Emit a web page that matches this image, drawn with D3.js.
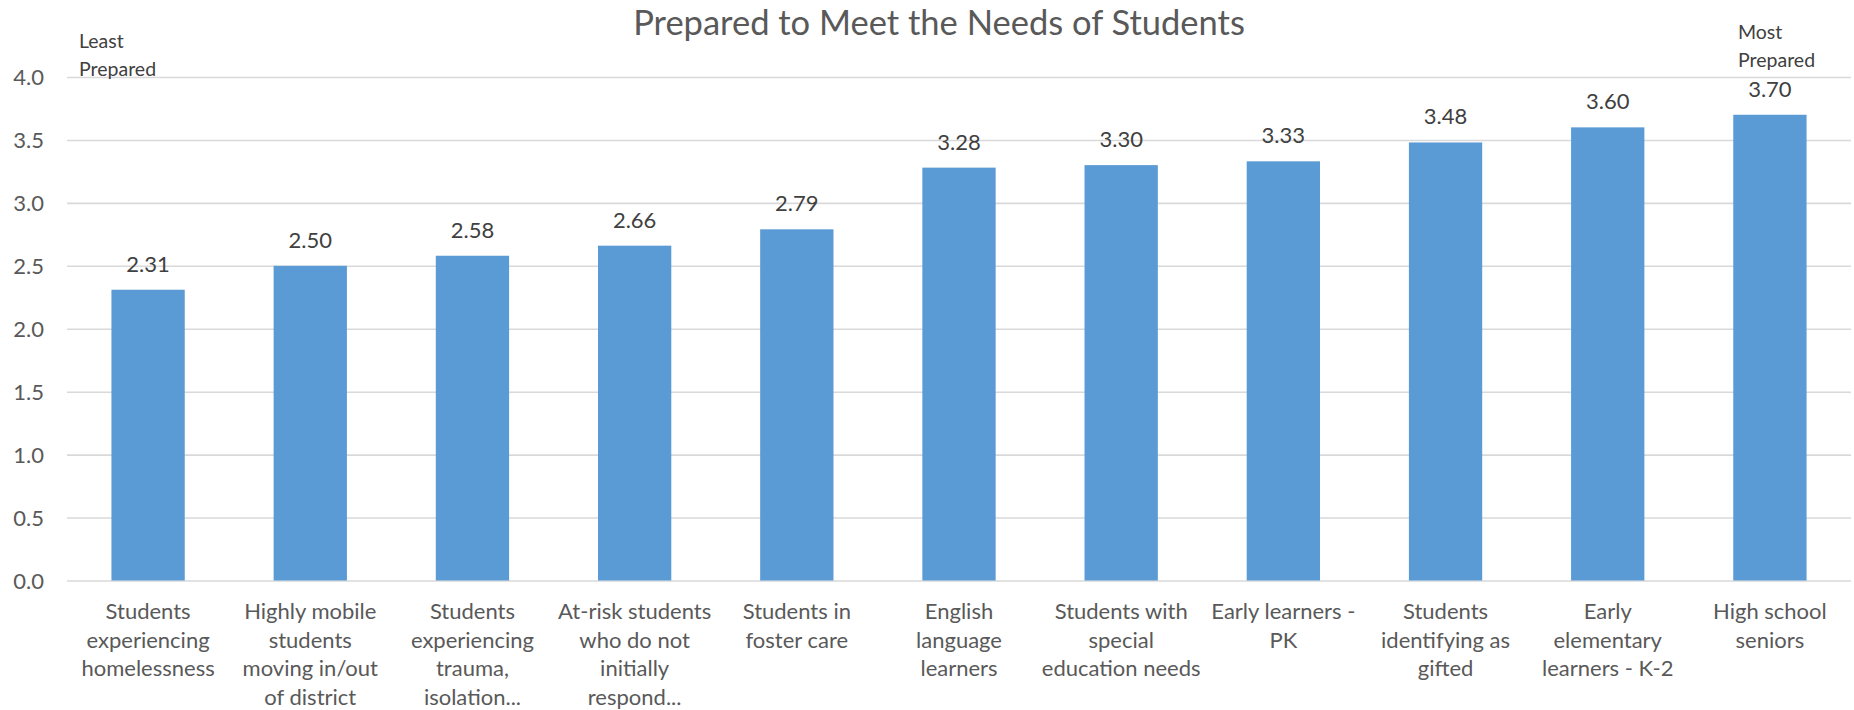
<!DOCTYPE html>
<html>
<head>
<meta charset="utf-8">
<script src="https://cdn.jsdelivr.net/npm/d3@7"></script>
<style>
  html, body { margin: 0; padding: 0; background: #ffffff; }
  svg { display: block; }
  text { font-family: Lato, "Open Sans", sans-serif; }
</style>
</head>
<body>
<svg id="chart" width="1854" height="710"></svg>
<script>
const title = "Prepared to Meet the Needs of Students";
const categories = [
  "Students\nexperiencing\nhomelessness",
  "Highly mobile\nstudents\nmoving in/out\nof district",
  "Students\nexperiencing\ntrauma,\nisolation...",
  "At-risk students\nwho do not\ninitially\nrespond...",
  "Students in\nfoster care",
  "English\nlanguage\nlearners",
  "Students with\nspecial\neducation needs",
  "Early learners -\nPK",
  "Students\nidentifying as\ngifted",
  "Early\nelementary\nlearners - K-2",
  "High school\nseniors"
];
const values = [2.31, 2.50, 2.58, 2.66, 2.79, 3.28, 3.30, 3.33, 3.48, 3.60, 3.70];
const yTicks = [0, 0.5, 1.0, 1.5, 2.0, 2.5, 3.0, 3.5, 4.0];
const yDomain = [0, 4.0];
const leftNote = ["Least", "Prepared"];
const rightNote = ["Most", "Prepared"];

const svg = d3.select("#chart");
const margin = { left: 67, right: 3, top: 77, bottom: 130 };
const W = 1854, H = 710;
const x0 = margin.left, x1 = W - margin.right;
const y0 = H - margin.bottom, y1 = margin.top;

const x = d3.scaleBand()
  .domain(categories)
  .range([x0, x1])
  .paddingInner(0.548)
  .paddingOuter(0.274);

const y = d3.scaleLinear().domain(yDomain).range([y0 + 0.5, y1]);

// gridlines + y labels
const yAxis = d3.axisLeft(y)
  .tickValues(yTicks)
  .tickFormat(d3.format(".1f"))
  .tickSize(-(x1 - x0))
  .tickPadding(23);

const gy = svg.append("g")
  .attr("transform", `translate(${x0},0)`)
  .call(yAxis);
gy.select(".domain").remove();
gy.selectAll(".tick line")
  .attr("stroke", "#d9d9d9")
  .attr("stroke-width", 1.6);
gy.selectAll(".tick text")
  .attr("fill", "#595959")
  .style("font-size", "22px")
  .attr("dy", "0.36em");

// bars
svg.append("g").selectAll("rect")
  .data(values)
  .join("rect")
  .attr("x", (d, i) => x(categories[i]))
  .attr("width", x.bandwidth())
  .attr("y", d => y(d))
  .attr("height", d => y(0) - y(d))
  .attr("fill", "#5b9bd5");

// data labels
svg.append("g").selectAll("text")
  .data(values)
  .join("text")
  .attr("x", (d, i) => x(categories[i]) + x.bandwidth() / 2)
  .attr("y", d => y(d) - 18)
  .attr("text-anchor", "middle")
  .attr("fill", "#404040")
  .style("font-size", "22px")
  .text(d => d3.format(".2f")(d));

// x axis labels
const xAxis = d3.axisBottom(x).tickSize(0).tickFormat("");
const gx = svg.append("g")
  .attr("transform", `translate(0,${y0})`)
  .call(xAxis);
gx.select(".domain").remove();
gx.selectAll(".tick").each(function(d) {
  const t = d3.select(this).append("text")
    .attr("text-anchor", "middle")
    .attr("fill", "#595959")
    .style("font-size", "22px");
  d.split("\n").forEach((line, k) => {
    t.append("tspan")
      .attr("x", 0)
      .attr("y", 39 + k * 28.7)
      .text(line);
  });
});

// title
svg.append("text")
  .attr("x", 939)
  .attr("y", 35)
  .attr("text-anchor", "middle")
  .attr("fill", "#595959")
  .style("font-size", "34.5px")
  .text(title);

// notes
function note(lines, xpos, ytop) {
  const t = svg.append("text")
    .attr("fill", "#404040")
    .style("font-size", "19.5px");
  lines.forEach((line, k) => {
    t.append("tspan").attr("x", xpos).attr("y", ytop + k * 27.5).text(line);
  });
}
note(leftNote, 79, 48);
note(rightNote, 1738, 39);
</script>
</body>
</html>
